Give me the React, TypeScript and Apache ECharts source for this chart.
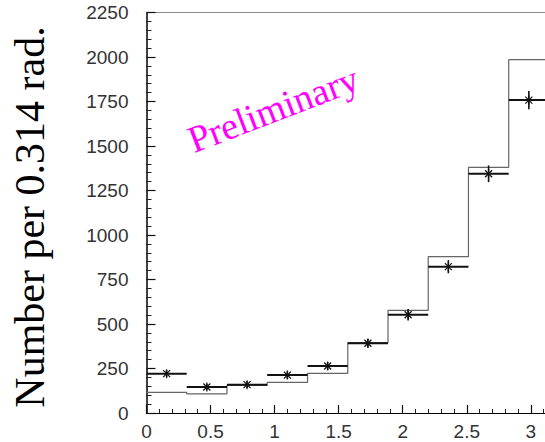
import React, { useEffect, useRef } from "react";
import * as echarts from "echarts";

// Bin edges (width 0.314 rad, 10 bins over 0..pi)
const binEdges = [0, 0.314, 0.628, 0.942, 1.257, 1.571, 1.885, 2.199, 2.513, 2.827, 3.1416];
// Simulated (histogram) counts per bin
const histValues = [116, 108, 155, 172, 223, 395, 577, 878, 1380, 1985];
// Measured data counts per bin
const dataValues = [221, 146, 159, 213, 264, 392, 552, 822, 1344, 1758];
// Statistical errors of the data
const dataErrors = [19, 18, 19, 21, 22, 25, 32, 37, 47, 51];
// Axis tick labels
const yTicks = [0, 250, 500, 750, 1000, 1250, 1500, 1750, 2000, 2250];

export default function App() {
  const ref = useRef<HTMLDivElement>(null);
  useEffect(() => {
    if (!ref.current) return;
    const chart = echarts.init(ref.current, null, { renderer: "svg" });

    const histData = histValues.map((v, i) => [binEdges[i], v]);
    histData.push([binEdges[binEdges.length - 1], histValues[histValues.length - 1]]);

    const pointData = dataValues.map((v, i) => [
      (binEdges[i] + binEdges[i + 1]) / 2,
      v,
      dataErrors[i],
      binEdges[i],
      binEdges[i + 1],
    ]);

    const labelFont = {
      fontFamily: "Liberation Sans",
      fontSize: 19,
      color: "#333",
    };

    chart.setOption({
      animation: false,
      grid: {
        left: 146.5,
        top: 12.5,
        bottom: 29,
        right: 0,
      },
      xAxis: [
        {
          type: "value",
          min: 0,
          max: Math.PI,
          interval: 0.5,
          position: "bottom",
          axisLine: { show: true, onZero: false, lineStyle: { color: "#000", width: 1.2 } },
          axisTick: { show: true, inside: true, length: 8, lineStyle: { color: "#111", width: 1.2 } },
          minorTick: { show: true, splitNumber: 5, length: 4, lineStyle: { color: "#222", width: 1 } },
          splitLine: { show: false },
          axisLabel: {
            ...labelFont,
            margin: 9,
            showMaxLabel: false,
            formatter: (v: number) => {
              const r = Math.round(v * 2) / 2;
              if (Math.abs(r - v) > 1e-6) return "";
              return String(r);
            },
          },
        },
        {
          type: "value",
          min: 0,
          max: Math.PI,
          position: "top",
          axisLine: { show: true, onZero: false, lineStyle: { color: "#888", width: 1.2 } },
          axisTick: { show: false },
          axisLabel: { show: false },
          splitLine: { show: false },
        },
      ],
      yAxis: {
        type: "value",
        min: yTicks[0],
        max: yTicks[yTicks.length - 1],
        interval: 250,
        axisLine: { show: true, onZero: false, lineStyle: { color: "#000", width: 1.5 } },
        axisTick: { show: true, inside: true, length: 9, lineStyle: { color: "#111", width: 1.2 } },
        minorTick: { show: true, splitNumber: 5, length: 5, lineStyle: { color: "#222", width: 1 } },
        splitLine: { show: false },
        axisLabel: { ...labelFont, margin: 18, formatter: (v: number) => String(v) },
      },
      graphic: [
        {
          type: "text",
          x: 30,
          y: 217,
          rotation: Math.PI / 2,
          style: {
            text: "Number per 0.314 rad.",
            fontFamily: "Liberation Serif",
            fontSize: 42,
            fill: "#000",
            align: "center",
            verticalAlign: "middle",
          },
        },
        {
          type: "text",
          x: 273,
          y: 109,
          rotation: (21 * Math.PI) / 180,
          z: 10,
          style: {
            text: "Preliminary",
            fontFamily: "Liberation Serif",
            fontSize: 38,
            fill: "#ff00ff",
            align: "center",
            verticalAlign: "middle",
          },
        },
      ],
      series: [
        {
          type: "line",
          step: "end",
          data: histData,
          symbol: "none",
          lineStyle: { color: "#666", width: 1.2 },
          z: 2,
        },
        {
          type: "custom",
          data: pointData,
          z: 3,
          renderItem: (params: any, api: any) => {
            const xc = api.value(0);
            const y = api.value(1);
            const e = api.value(2);
            const x0 = api.value(3);
            const x1 = api.value(4);
            const pc = api.coord([xc, y]);
            const pl = api.coord([x0, y]);
            const pr = api.coord([x1, y]);
            const pt = api.coord([xc, y + e]);
            const pb = api.coord([xc, y - e]);
            const s = 3.5;
            const stroke = { stroke: "#111", lineWidth: 1.2 };
            return {
              type: "group",
              children: [
                { type: "line", shape: { x1: pl[0], y1: pl[1], x2: pr[0], y2: pr[1] }, style: { stroke: "#111", lineWidth: 2 } },
                { type: "line", shape: { x1: pt[0], y1: pt[1], x2: pb[0], y2: pb[1] }, style: { stroke: "#111", lineWidth: 1.6 } },
                { type: "line", shape: { x1: pc[0] - s, y1: pc[1] - s, x2: pc[0] + s, y2: pc[1] + s }, style: stroke },
                { type: "line", shape: { x1: pc[0] - s, y1: pc[1] + s, x2: pc[0] + s, y2: pc[1] - s }, style: stroke },
                { type: "line", shape: { x1: pc[0], y1: pc[1] - s - 1, x2: pc[0], y2: pc[1] + s + 1 }, style: stroke },
              ],
            };
          },
        },
      ],
    });
    return () => chart.dispose();
  }, []);

  return (
    <div style={{ position: "absolute", left: 0, top: 0, width: 545, height: 442, overflow: "hidden", background: "#fff" }}>
      <div ref={ref} style={{ width: 549, height: 442 }} />
    </div>
  );
}
